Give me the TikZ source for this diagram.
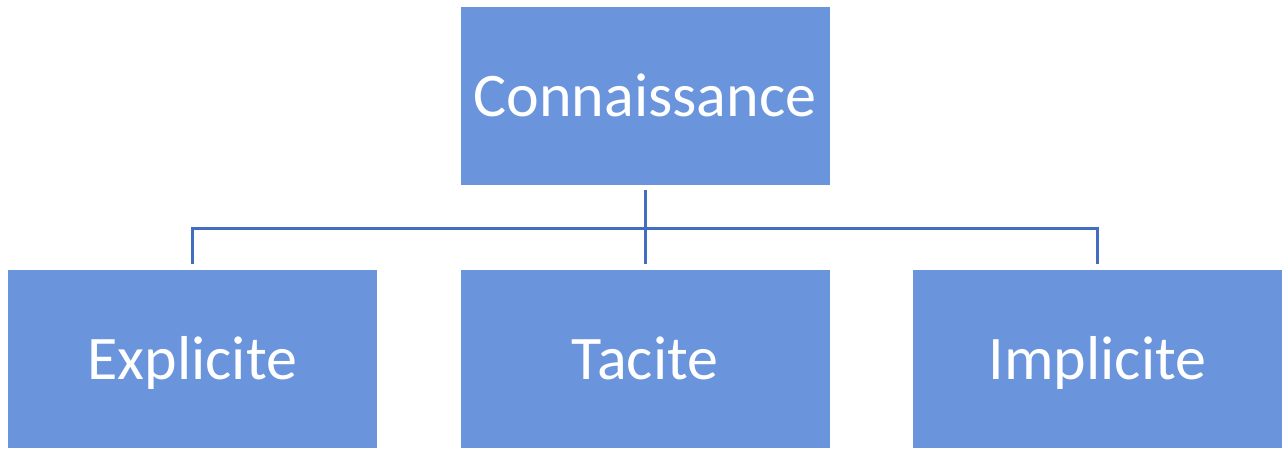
\documentclass[tikz,border=0pt]{standalone}
\usepackage{fontspec}
\setmainfont{Carlito}
\definecolor{boxblue}{RGB}{106,149,220}
\definecolor{lineblue}{RGB}{66,110,192}
\begin{document}
\begin{tikzpicture}[x=1pt,y=-1pt,
  box/.style={rectangle, fill=boxblue, draw=none, inner sep=0pt,
    minimum width=369pt, minimum height=178pt, text=white,
    text height=40pt, text depth=0pt,
    font=\fontsize{62}{74}\selectfont},
  conn/.style={draw=lineblue, line width=3pt}]
\useasboundingbox (0,0) rectangle (1284,448);
\node[box] (T) at (645,96) {Connaissance};
\node[box] (L) at (192.5,359) {Explicite};
\node[box] (M) at (645,359) {Tacite};
\node[box] (R) at (1097.5,359) {Implicite};
\coordinate (bus) at (645,228);
\draw[conn] ([yshift=6pt]L.north) -- (L.north |- bus) -- (R.north |- bus) -- ([yshift=6pt]R.north);
\draw[conn] ([yshift=-5pt]T.south) -- ([yshift=6pt]M.north);
\end{tikzpicture}
\end{document}
